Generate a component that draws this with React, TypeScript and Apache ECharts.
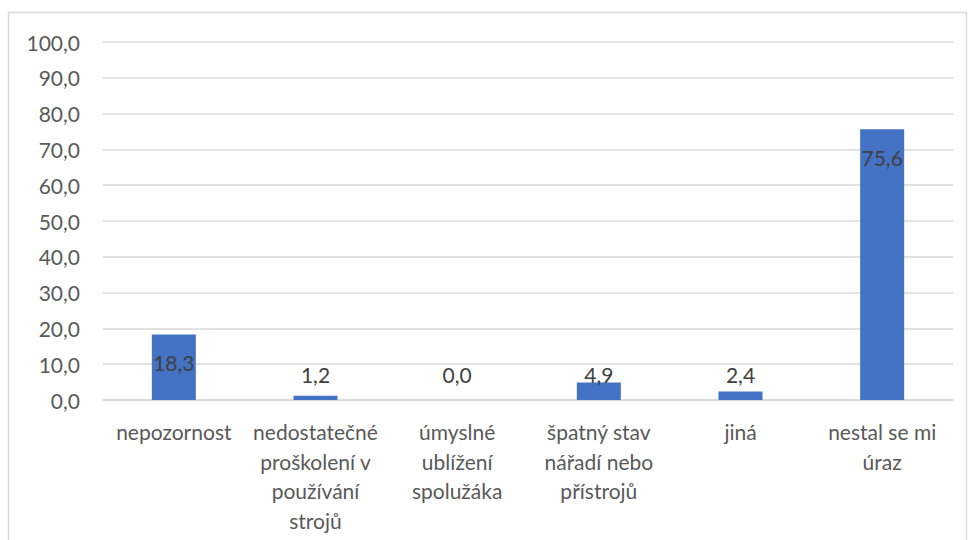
import React, { useEffect, useRef } from "react";
import * as echarts from "echarts";

const categories = [
  "nepozornost",
  "nedostatečné\nproškolení v\npoužívání\nstrojů",
  "úmyslné\nublížení\nspolužáka",
  "špatný stav\nnářadí nebo\npřístrojů",
  "jiná",
  "nestal se mi\núraz",
];
const values = [18.3, 1.2, 0.0, 4.9, 2.4, 75.6];
const yMin = 0;
const yMax = 100;
const yInterval = 10;

const FONT = "Lato, 'Open Sans', sans-serif";
const fmt = (v: number) => v.toFixed(1).replace(".", ",");

export default function App() {
  const ref = useRef<HTMLDivElement>(null);
  useEffect(() => {
    if (!ref.current) return;
    const chart = echarts.init(ref.current, undefined, { renderer: "svg" });
    const data = values.map((v) => ({
      value: v,
      label:
        v > 10
          ? { position: "insideTop", distance: 18 }
          : { position: "insideBottom", distance: 15 },
    }));
    chart.setOption({
      animation: false,
      backgroundColor: "#ffffff",
      textStyle: { fontFamily: FONT },
      grid: { left: 103, right: 19, top: 42, bottom: 140, containLabel: false },
      graphic: [
        {
          type: "rect",
          shape: { x: 8.5, y: 12.5, width: 958, height: 560 },
          style: { fill: "none", stroke: "#d9d9d9", lineWidth: 1.5 },
          silent: true,
          z: -1,
        },
      ],
      xAxis: {
        type: "category",
        data: categories,
        axisLine: { show: true, lineStyle: { color: "#d9d9d9", width: 1.5 } },
        axisTick: { show: false },
        axisLabel: {
          interval: 0,
          color: "#595959",
          fontFamily: FONT,
          fontSize: 21,
          lineHeight: 29.5,
          margin: 17,
        },
      },
      yAxis: {
        type: "value",
        min: yMin,
        max: yMax,
        interval: yInterval,
        axisLine: { show: false },
        axisTick: { show: false },
        splitLine: { lineStyle: { color: "#d9d9d9", width: 1.5 } },
        axisLabel: {
          color: "#595959",
          fontFamily: FONT,
          fontSize: 21,
          margin: 23,
          formatter: (v: number) => fmt(v),
        },
      },
      series: [
        {
          type: "bar",
          data,
          barWidth: 44,
          itemStyle: { color: "#4472C4" },
          label: {
            show: true,
            color: "#404040",
            fontFamily: FONT,
            fontSize: 21,
            formatter: (p: any) => fmt(p.value),
          },
        },
      ],
    });
    return () => chart.dispose();
  }, []);
  return (
    <div
      ref={ref}
      style={{ position: "fixed", left: 0, top: 0, width: 972, height: 540 }}
    />
  );
}
